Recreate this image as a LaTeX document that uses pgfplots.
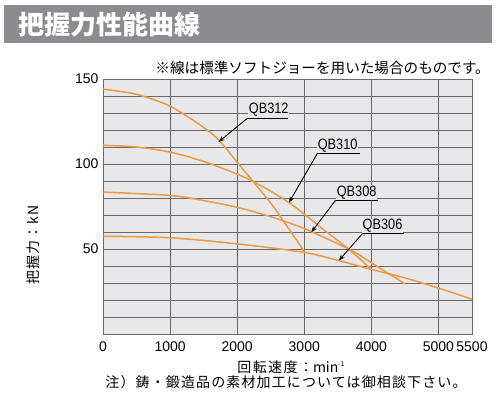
\documentclass[border=0pt]{standalone}
\usepackage{pgfplots}
\pgfplotsset{compat=1.18}
\usetikzlibrary{arrows.meta}
\usepackage{fontspec}
\setmainfont{Liberation Sans}
\newfontfamily\jp{Noto Sans CJK JP}
\newfontfamily\jpw[LetterSpace=8]{Noto Sans CJK JP}
\newfontfamily\jpx[LetterSpace=10]{Noto Sans CJK JP}
\newfontfamily\cond[FakeStretch=0.85]{Liberation Sans}
\definecolor{curve}{RGB}{242,152,68}
\definecolor{plotbg}{RGB}{232,232,234}
\definecolor{gridc}{RGB}{105,105,108}
\definecolor{titlegray}{RGB}{140,140,144}
\begin{document}
\begin{tikzpicture}
\useasboundingbox (0bp,0bp) rectangle (500bp,-407bp);
\fill[titlegray] (4bp,-5bp) rectangle (492bp,-43bp);
\node[anchor=west, text=white, font=\jp\bfseries\fontsize{26bp}{30bp}\selectfont, inner sep=0pt] at (18bp,-25bp) {把握力性能曲線};
\node[anchor=east, font=\jp\fontsize{14.6bp}{17bp}\selectfont, inner sep=0pt] at (490bp,-68bp) {※線は標準ソフトジョーを用いた場合のものです。};
\begin{axis}[
  at={(103bp,-334bp)}, anchor=south west,
  width=369bp, height=255bp, scale only axis,
  xmin=0, xmax=5500, ymin=0, ymax=150,
  xtick={0,1000,2000,3000,4000,5000,5500},
  ytick={50,100,150},
  minor ytick={10,20,30,40,60,70,80,90,110,120,130,140},
  grid=both,
  major grid style={draw=gridc, line width=0.9bp},
  minor grid style={draw=gridc, line width=0.9bp},
  major tick length=0pt, minor tick length=0pt,
  axis line style={draw=gridc, line width=0.9bp},
  axis background/.style={fill=plotbg},
  ticklabel style={font=\fontsize{14bp}{16bp}\selectfont},
  /pgf/number format/assume math mode=true,
  /pgf/number format/1000 sep={},
  scaled x ticks=false,
  xticklabel style={yshift=-4bp},
  yticklabel style={xshift=-1bp},
  clip=false,
]
\addplot[curve, line width=1.5bp, smooth] coordinates {(0,144)(500,141)(1000,134)(1500,121.5)(1750,113)(2000,101)(2200,91.5)(2500,77)(2750,63)(3000,48.5)};
\addplot[curve, line width=1.5bp, smooth] coordinates {(0,111)(500,110)(1000,107)(1500,101.5)(2000,94)(2250,89.5)(2500,84)(2783,77)(3000,70.5)(3300,61)(3676,49.5)(4000,38)};
\addplot[curve, line width=1.5bp, smooth] coordinates {(0,83.5)(1000,81.5)(1500,78.5)(2000,74.5)(2500,69)(3000,62)(3676,49.7)(4000,42)(4500,29.5)};
\addplot[curve, line width=1.5bp, smooth] coordinates {(0,57.5)(1000,56.6)(2000,53)(3000,48)(3500,43.3)(4000,38)(4500,33)(5000,27)(5500,20.5)};
% labels
\draw[black, line width=0.8bp] (axis cs:2143,126.6) -- (axis cs:2753,126.6);
\draw[black, line width=0.9bp, -{Stealth[length=6bp,width=4.5bp]}] (axis cs:2143,126.6) -- (axis cs:1723,113);
\node[font=\cond\fontsize{15bp}{17bp}\selectfont, fill=plotbg, inner sep=0.6bp] at (axis cs:2470,132.2) {QB312};
\draw[black, line width=0.8bp] (axis cs:3199,106.5) -- (axis cs:3824,106.5);
\draw[black, line width=0.9bp, -{Stealth[length=6bp,width=4.5bp]}] (axis cs:3199,106.5) -- (axis cs:2772,77.3);
\node[font=\cond\fontsize{15bp}{17bp}\selectfont, fill=plotbg, inner sep=0.6bp] at (axis cs:3497,110.9) {QB310};
\draw[black, line width=0.8bp] (axis cs:3467,78.7) -- (axis cs:4092,78.7);
\draw[black, line width=0.9bp, -{Stealth[length=6bp,width=4.5bp]}] (axis cs:3467,78.7) -- (axis cs:3106,59.9);
\node[font=\cond\fontsize{15bp}{17bp}\selectfont, fill=plotbg, inner sep=0.6bp] at (axis cs:3780,83.2) {QB308};
\draw[black, line width=0.8bp] (axis cs:3869,59.2) -- (axis cs:4479,59.2);
\draw[black, line width=0.9bp, -{Stealth[length=6bp,width=4.5bp]}] (axis cs:3869,59.2) -- (axis cs:3516,43.2);
\node[font=\cond\fontsize{15bp}{17bp}\selectfont, fill=plotbg, inner sep=0.6bp] at (axis cs:4167,63.5) {QB306};
\end{axis}
\node[rotate=90, font=\jpw\fontsize{14bp}{16bp}\selectfont, inner sep=0pt] at (33bp,-245bp) {把握力：kN};
\node[font=\fontsize{14bp}{16bp}\selectfont, inner sep=0pt] at (291bp,-367.5bp) {{\jpx 回転速度：}{\jp min}\raisebox{0.45em}{\fontsize{7bp}{8bp}\selectfont -1}};
\node[font=\jpw\fontsize{14bp}{16bp}\selectfont, inner sep=0pt] at (286bp,-382.5bp) {注）鋳・鍛造品の素材加工については御相談下さい。};
\end{tikzpicture}
\end{document}
